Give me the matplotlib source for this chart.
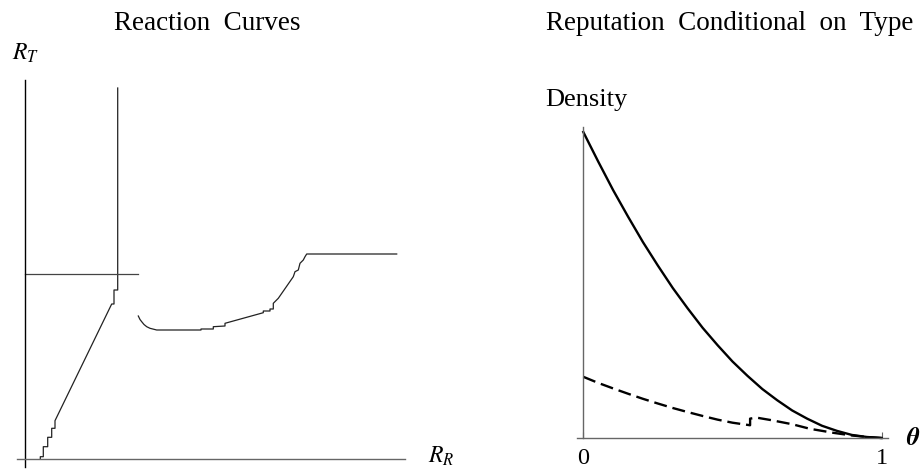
import matplotlib
matplotlib.use("Agg")
import matplotlib.pyplot as plt

plt.rcParams['font.family'] = ['Liberation Serif', 'DejaVu Serif']
plt.rcParams['mathtext.fontset'] = 'stix'

# Reaction curves (left panel), R_R vs R_T
react_left_x = [0.153, 0.153, 0.183, 0.183, 0.227, 0.227, 0.267, 0.267, 0.30, 0.30,
                0.867, 0.89, 0.89, 0.927, 0.927]
react_left_y = [0.0, 0.023, 0.023, 0.123, 0.123, 0.217, 0.217, 0.307, 0.307, 0.383,
                1.55, 1.55, 1.69, 1.69, 3.71]
react_mid_x = [1.133, 1.15, 1.167, 1.19, 1.217, 1.25, 1.317, 1.76, 1.76, 1.883, 1.883,
               2.0, 2.0, 2.383, 2.383, 2.45, 2.45, 2.483, 2.483, 2.533, 2.683, 2.70,
               2.733, 2.75, 2.783, 2.80, 2.817, 3.717]
react_mid_y = [1.43, 1.395, 1.373, 1.345, 1.323, 1.307, 1.29, 1.29, 1.30, 1.30, 1.323,
               1.33, 1.357, 1.463, 1.48, 1.48, 1.50, 1.50, 1.557, 1.607, 1.823, 1.873,
               1.89, 1.957, 1.99, 2.023, 2.05, 2.05]
react_h_x = [0.0, 1.13]
react_h_y = [1.85, 1.85]

# Reputation densities (right panel)
theta = [0.0, 0.05, 0.1, 0.15, 0.2, 0.25, 0.3, 0.35, 0.4, 0.45, 0.5, 0.55, 0.6,
         0.65, 0.7, 0.75, 0.8, 0.85, 0.9, 0.95, 1.0]
dens_solid = [3.0, 2.71, 2.43, 2.17, 1.92, 1.69, 1.47, 1.27, 1.08, 0.91, 0.75, 0.61,
              0.48, 0.37, 0.27, 0.19, 0.12, 0.07, 0.03, 0.01, 0.0]
theta_dash = [0.0, 0.05, 0.1, 0.15, 0.2, 0.25, 0.3, 0.35, 0.4, 0.45, 0.5, 0.559,
              0.559, 0.58, 0.63, 0.70, 0.76, 0.84, 0.90, 0.95, 1.0]
dens_dash = [0.60, 0.54, 0.486, 0.434, 0.384, 0.338, 0.294, 0.254, 0.216, 0.18, 0.15,
             0.125, 0.19, 0.20, 0.175, 0.135, 0.09, 0.05, 0.025, 0.01, 0.0]

W, H = 924, 472
fig = plt.figure(figsize=(W / 100, H / 100), dpi=100)

# left panel
ax1 = fig.add_axes([0, 0, 0.5, 1])
ax1.set_xlim(-0.25, 4.37)
ax1.set_ylim(-0.13, 4.59)
ax1.plot(react_left_x, react_left_y, color='#222222', lw=0.9)
ax1.plot(react_mid_x, react_mid_y, color='#222222', lw=0.9)
ax1.plot(react_h_x, react_h_y, color='#444444', lw=0.9)
for s in ['top', 'right']:
    ax1.spines[s].set_visible(False)
ax1.spines['left'].set_position(('data', 0))
ax1.spines['bottom'].set_position(('data', 0))
ax1.spines['left'].set_bounds(-0.08, 3.79)
ax1.spines['bottom'].set_bounds(-0.08, 3.80)
ax1.spines['left'].set_color('black')
ax1.spines['bottom'].set_color('#666666')
ax1.spines['left'].set_linewidth(1.0)
ax1.spines['bottom'].set_linewidth(1.0)
ax1.set_xticks([])
ax1.set_yticks([])
ax1.patch.set_visible(False)

# right panel
ax2 = fig.add_axes([0.5, 0, 0.5, 1])
ax2.set_xlim(-0.4065, 1.1418)
ax2.set_ylim(-0.3333, 4.294)
ax2.plot(theta, dens_solid, color='black', lw=1.7)
ax2.plot(theta_dash, dens_dash, color='black', lw=1.7, dashes=(5.5, 2.5))
for s in ['top', 'right']:
    ax2.spines[s].set_visible(False)
ax2.spines['left'].set_position(('data', 0))
ax2.spines['bottom'].set_position(('data', 0))
ax2.spines['left'].set_bounds(0, 3.05)
ax2.spines['bottom'].set_bounds(-0.022, 1.02)
for s in ['left', 'bottom']:
    ax2.spines[s].set_color('#666666')
    ax2.spines[s].set_linewidth(1.0)
ax2.set_yticks([])
ax2.set_xticks([0, 1])
ax2.set_xticklabels(['0', '1'], fontsize=17.5)
ax2.tick_params(axis='x', direction='in', length=4, width=0.8, color='#666666', pad=7.5)
ax2.patch.set_visible(False)


def px(x, y):
    return x / W, 1 - y / H


fig.text(*px(207, 30), 'Reaction  Curves', fontsize=19.5, ha='center', va='baseline')
fig.text(*px(730, 30), 'Reputation  Conditional  on  Type', fontsize=19.5, ha='center',
         va='baseline')
fig.text(*px(545, 106), 'Density', fontsize=19, ha='left', va='baseline')
fig.text(*px(12, 60), r'$R_T$', fontsize=17, ha='left', va='baseline')
fig.text(*px(428, 463), r'$R_R$', fontsize=17, ha='left', va='baseline')
fig.text(*px(906, 445), 'θ', fontsize=18, ha='left', va='baseline',
         family='STIXGeneral', style='italic', weight='bold')

fig.savefig('out.png', dpi=100)
